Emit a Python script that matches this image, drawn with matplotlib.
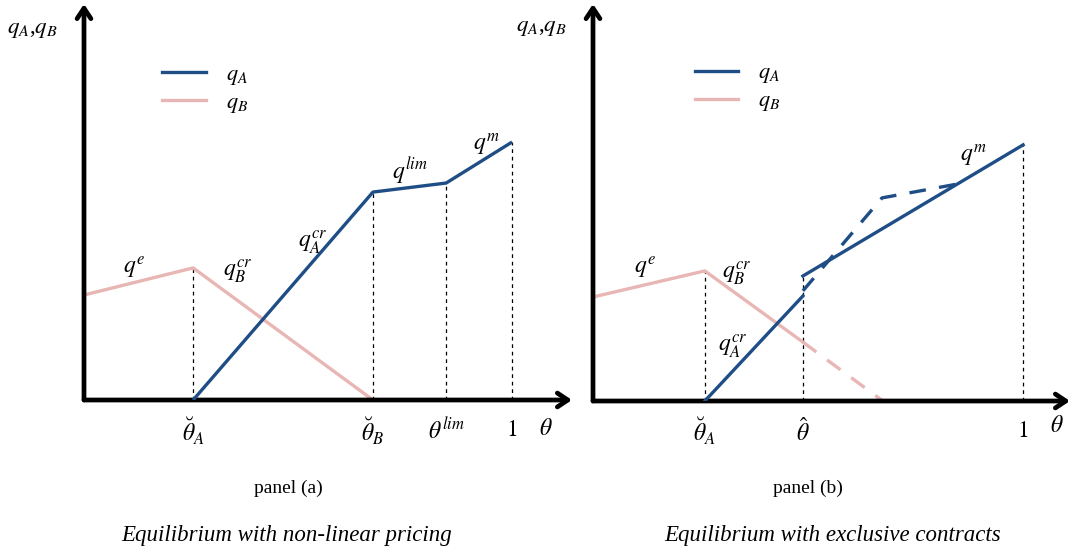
import matplotlib
matplotlib.use("Agg")
import matplotlib.pyplot as plt

plt.rcParams["mathtext.fontset"] = "stix"
plt.rcParams["font.family"] = ["Liberation Serif", "DejaVu Serif"]

BLUE = "#1f4e87"
PINK = "#e8b6b4"

# panel (a): non-linear pricing
theta_a = [0.255, 0.675, 0.846, 1.0]          # breve theta_A, breve theta_B, theta_lim, 1
qB_a_theta = [0.0, 0.255, 0.675]
qB_a = [0.407, 0.512, 0.0]
qA_a_theta = [0.255, 0.675, 0.846, 1.0]
qA_a = [0.0, 0.806, 0.841, 1.0]
ticks_a = [r"$\breve{\theta}_A$", r"$\breve{\theta}_B$", r"$\theta^{lim}$", r"$1$"]

# panel (b): exclusive contracts
theta_b = [0.26, 0.488, 1.0]                  # breve theta_A, hat theta, 1
qB_b_theta = [0.0, 0.26, 0.488]
qB_b = [0.406, 0.508, 0.23]
qB_b_dash_theta = [0.488, 0.674]
qB_b_dash = [0.23, 0.0]
qA_b_low_theta = [0.26, 0.488]
qA_b_low = [0.0, 0.41]
qA_b_up_theta = [0.488, 1.0]
qA_b_up = [0.488, 1.0]
qA_b_dash_theta = [0.488, 0.672, 0.847]
qA_b_dash = [0.43, 0.793, 0.847]
ticks_b = [r"$\breve{\theta}_A$", r"$\hat{\theta}$", r"$1$"]

W, H = 1072, 554
fig = plt.figure(figsize=(W / 100, H / 100), dpi=100)


def make_axes(x0, y0, x1, y1, xmax, ymax):
    # x0,y0 = origin in pixels (from top-left), x1,y1 = arrow tips
    ax = fig.add_axes([x0 / W, 1 - y0 / H, (x1 - x0) / W, (y0 - y1) / H])
    ax.set_xlim(0, xmax)
    ax.set_ylim(0, ymax)
    ax.axis("off")
    for tip in [(1.0, 0.0), (0.0, 1.0)]:
        ax.annotate("", xy=tip, xytext=(0, 0), xycoords="axes fraction",
                    arrowprops=dict(arrowstyle="->,head_length=0.75,head_width=0.5",
                                    lw=3.4, color="black", shrinkA=0, shrinkB=0))
    return ax


def vlines(ax, xs, ys):
    for x, y in zip(xs, ys):
        ax.plot([x, x], [0, y], color="black", lw=0.9, ls=(0, (3, 3)), zorder=1)


def legend(ax, x, y):
    h1, = ax.plot([], [], color=BLUE, lw=2.4)
    h2, = ax.plot([], [], color=PINK, lw=2.4)
    ax.legend([h1, h2], [r"$q_A$", r"$q_B$"], loc="upper left", bbox_to_anchor=(x, y),
              frameon=False, fontsize=16, handlelength=1.95, handletextpad=0.9,
              labelspacing=0.25, borderpad=0)


lab = dict(fontsize=17, ha="center", va="center")

# ---- panel (a)
ax = make_axes(84, 400, 572, 4, 1.14, 1.535)
ax.plot(qB_a_theta, qB_a, color=PINK, lw=2.4, zorder=2, solid_capstyle="butt")
ax.plot(qA_a_theta, qA_a, color=BLUE, lw=2.4, zorder=3, solid_capstyle="butt")
vlines(ax, [qB_a_theta[1]] + qA_a_theta[1:], [qB_a[1]] + qA_a[1:])
for t, s in zip(theta_a, ticks_a):
    ax.text(t, -0.12, s, **lab)
ax.text(1.078, -0.115, r"$\theta$", **lab)
ax.text(-0.12, 1.435, r"$q_A$,$q_B$", fontsize=16.5, ha="center", va="center")
ax.text(0.118, 0.51, r"$q^e$", **lab)
ax.text(0.36, 0.50, r"$q_B^{cr}$", **lab)
ax.text(0.535, 0.61, r"$q_A^{cr}$", **lab)
ax.text(0.762, 0.89, r"$q^{lim}$", **lab)
ax.text(0.94, 0.99, r"$q^m$", **lab)
legend(ax, 0.138, 0.875)

# ---- panel (b)
ax = make_axes(593, 401, 1070, 4, 1.109, 1.55)
ax.plot(qB_b_theta, qB_b, color=PINK, lw=2.4, zorder=2)
ax.plot(qB_b_dash_theta, qB_b_dash, color=PINK, lw=2.4, ls=(0, (5, 4)), zorder=2)
ax.plot(qA_b_low_theta, qA_b_low, color=BLUE, lw=2.4, zorder=3)
ax.plot(qA_b_up_theta, qA_b_up, color=BLUE, lw=2.4, zorder=3)
ax.plot(qA_b_dash_theta, qA_b_dash, color=BLUE, lw=2.4, ls=(0, (5, 4)), zorder=3)
vlines(ax, [qB_b_theta[1], qA_b_up_theta[0], qA_b_up_theta[1]],
       [qB_b[1], qA_b_up[0], qA_b_up[1]])
for t, s in zip(theta_b, ticks_b):
    ax.text(t, -0.12, s, **lab)
ax.text(1.078, -0.10, r"$\theta$", **lab)
ax.text(-0.12, 1.457, r"$q_A$,$q_B$", fontsize=16.5, ha="center", va="center")
ax.text(0.121, 0.52, r"$q^e$", **lab)
ax.text(0.335, 0.50, r"$q_B^{cr}$", **lab)
ax.text(0.326, 0.215, r"$q_A^{cr}$", **lab)
ax.text(0.884, 0.955, r"$q^m$", **lab)
legend(ax, 0.19, 0.88)

# captions
fig.text(288 / W, 1 - 488 / H, "panel (a)", fontsize=14, ha="center", va="center")
fig.text(808 / W, 1 - 488 / H, "panel (b)", fontsize=14, ha="center", va="center")
fig.text(287 / W, 1 - 536 / H, "Equilibrium with non-linear pricing", fontsize=16.5,
         style="italic", ha="center", va="center")
fig.text(833 / W, 1 - 536 / H, "Equilibrium with exclusive contracts", fontsize=16.5,
         style="italic", ha="center", va="center")

fig.savefig("out.png", dpi=100)
